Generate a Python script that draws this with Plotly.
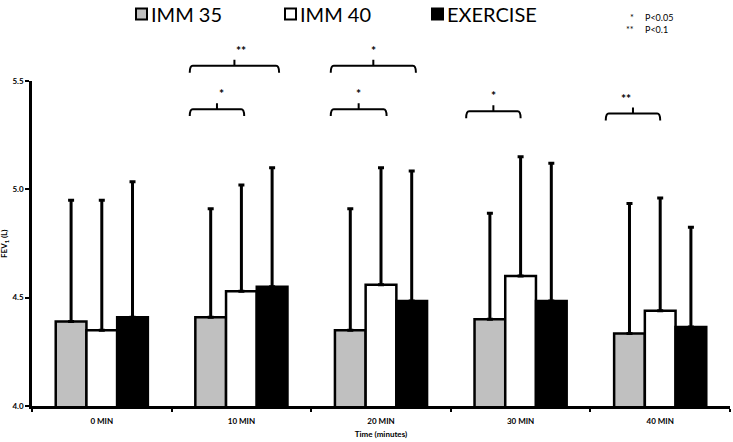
import plotly.graph_objects as go

# ---- data ----
categories = ["0 MIN", "10 MIN", "20 MIN", "30 MIN", "40 MIN"]
series_names = ["IMM 35", "IMM 40", "EXERCISE"]
imm35_mean = [4.39, 4.41, 4.35, 4.40, 4.335]
imm35_sd = [0.56, 0.50, 0.56, 0.49, 0.60]
imm40_mean = [4.35, 4.53, 4.56, 4.60, 4.44]
imm40_sd = [0.60, 0.49, 0.54, 0.55, 0.52]
exercise_mean = [4.41, 4.55, 4.485, 4.485, 4.365]
exercise_sd = [0.625, 0.55, 0.60, 0.635, 0.46]
y_ticks = [4.0, 4.5, 5.0, 5.5]
# significance brackets: (category index, start offset, end offset, level value, label)
brackets = [
    (1, -0.37, 0.02, 5.37, "*"),
    (1, -0.37, 0.27, 5.57, "**"),
    (2, -0.36, 0.04, 5.37, "*"),
    (2, -0.36, 0.25, 5.57, "*"),
    (3, -0.39, 0.0, 5.36, "*"),
    (4, -0.39, 0.0, 5.35, "**"),
]
p_legend = [("*", "P<0.05"), ("**", "P<0.1")]

W, H = 733, 442
ML, MR, MT, MB = 32, 3, 81, 34
PW, PH = W - ML - MR, H - MT - MB
YMIN, YMAX = 4.0, 5.5
FONT = "Lato"

fill_colors = ["#c0c0c0", "#ffffff", "#000000"]
means = [imm35_mean, imm40_mean, exercise_mean]
sds = [imm35_sd, imm40_sd, exercise_sd]

fig = go.Figure()
for name, m, s, c in zip(series_names, means, sds, fill_colors):
    fig.add_trace(go.Bar(
        x=categories, y=m, name=name,
        marker=dict(color=c, line=dict(color="black", width=2.5)),
        error_y=dict(type="data", array=s, arrayminus=[0] * len(s), symmetric=False,
                     color="black", thickness=3, width=3),
        showlegend=False,
    ))


def px2x(px):
    return (px - ML) / PW


def px2y(py):
    return (H - MB - py) / PH


def v2y(v):
    return (v - YMIN) / (YMAX - YMIN)


def cat2x(i, off):
    n = len(categories)
    return (i + 0.5 + off) / n


shapes = []
annotations = []
drop = 7 / PH
tick = 6 / PH
r = 3 / PW
for i, a, b, lev, lab in brackets:
    x0, x1, xm = cat2x(i, a), cat2x(i, b), cat2x(i, (a + b) / 2)
    y = v2y(lev)
    path = (f"M {x0},{y - drop} Q {x0},{y} {x0 + r},{y} L {x1 - r},{y} "
            f"Q {x1},{y} {x1},{y - drop} M {xm},{y} L {xm},{y + tick}")
    shapes.append(dict(type="path", xref="paper", yref="paper", path=path,
                       line=dict(color="black", width=2)))
    annotations.append(dict(xref="paper", yref="paper", x=xm, y=y + tick,
                            text=f"<b>{lab}</b>", showarrow=False, yanchor="bottom",
                            font=dict(family=FONT, size=12, color="black")))

# manual legend
leg_sq_x = [136, 285, 432]
for name, c, sx in zip(series_names, fill_colors, leg_sq_x):
    shapes.append(dict(type="rect", xref="paper", yref="paper",
                       x0=px2x(sx), x1=px2x(sx + 11), y0=px2y(19), y1=px2y(8),
                       fillcolor=c, line=dict(color="black", width=2)))
    annotations.append(dict(xref="paper", yref="paper", x=px2x(sx + 13), y=px2y(14),
                            text=name, showarrow=False, xanchor="left", yanchor="middle",
                            font=dict(family=FONT, size=20, color="black")))

for k, (st, txt) in enumerate(p_legend):
    yy = px2y(17 + 12 * k)
    annotations.append(dict(xref="paper", yref="paper", x=px2x(636), y=yy, text=st,
                            showarrow=False, xanchor="right", yanchor="middle",
                            font=dict(family=FONT, size=9, color="black")))
    annotations.append(dict(xref="paper", yref="paper", x=px2x(643), y=yy, text=txt,
                            showarrow=False, xanchor="left", yanchor="middle",
                            font=dict(family=FONT, size=9, color="black")))

# y axis title
annotations.append(dict(xref="paper", yref="paper", x=px2x(5), y=px2y(245),
                        text="<b>FEV<sub>1</sub> (L)</b>", textangle=-90, showarrow=False,
                        xanchor="center", yanchor="middle",
                        font=dict(family=FONT, size=8, color="black")))

fig.update_layout(
    width=W, height=H,
    margin=dict(l=ML, r=MR, t=MT, b=MB, pad=0),
    paper_bgcolor="white", plot_bgcolor="white",
    barmode="group", bargap=0.34, bargroupgap=0,
    shapes=shapes, annotations=annotations,
    showlegend=False,
    xaxis=dict(
        type="category", showline=True, linecolor="black", linewidth=2.5,
        ticks="outside", tickson="boundaries", ticklen=3, tickwidth=2, tickcolor="black",
        showgrid=False, zeroline=False, ticklabelstandoff=6,
        tickfont=dict(family=FONT, size=8, color="black", weight="bold"),
        title=dict(text="<b>Time (minutes)</b>", standoff=7,
                   font=dict(family=FONT, size=8, color="black")),
        range=[-0.5, len(categories) - 0.5],
    ),
    yaxis=dict(
        range=[YMIN, YMAX], tickvals=y_ticks, tickformat=".1f",
        showline=True, linecolor="black", linewidth=2.5,
        ticks="outside", ticklen=4, tickwidth=2, tickcolor="black",
        showgrid=False, zeroline=False,
        tickfont=dict(family=FONT, size=8, color="black", weight="bold"),
    ),
)

fig.write_html("out.html")
